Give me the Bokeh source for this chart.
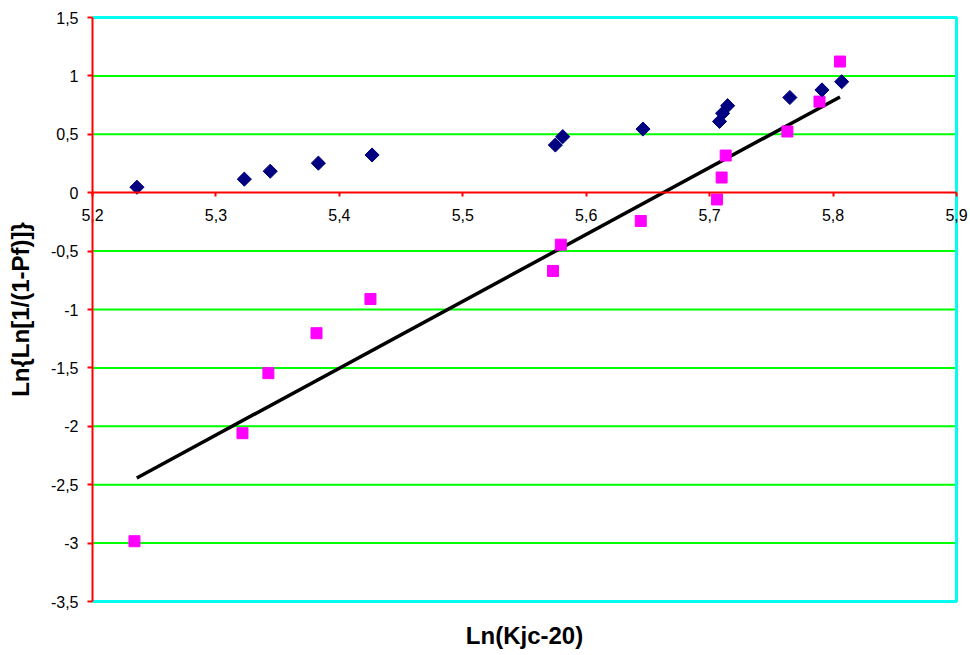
import numpy as np
from bokeh.plotting import figure
from bokeh.models import FixedTicker, Range1d, Title, LinearAxis
from bokeh.embed import file_html
from bokeh.resources import INLINE

# ---- data ----
x_blue = [5.236, 5.323, 5.344, 5.383, 5.4265, 5.575, 5.581, 5.646, 5.708, 5.7105, 5.7146, 5.765, 5.791, 5.807]
y_blue = [0.047, 0.116, 0.184, 0.253, 0.323, 0.408, 0.48, 0.545, 0.61, 0.68, 0.745, 0.815, 0.88, 0.95]

x_pink = [5.234, 5.3215, 5.3425, 5.3815, 5.4252, 5.5731, 5.5794, 5.6442, 5.706, 5.7097, 5.713, 5.763, 5.789, 5.8056]
y_pink = [-2.984, -2.059, -1.545, -1.203, -0.91, -0.67, -0.445, -0.242, -0.058, 0.13, 0.318, 0.524, 0.78, 1.123]

trend_x = [5.2359, 5.8056]
trend_y = [-2.442, 0.820]

x_min, x_max = 5.2, 5.9
y_min, y_max = -3.5, 1.5
x_ticks = [5.2, 5.3, 5.4, 5.5, 5.6, 5.7, 5.8, 5.9]
x_tick_labels = ["5,2", "5,3", "5,4", "5,5", "5,6", "5,7", "5,8", "5,9"]
y_ticks = [-3.5, -3.0, -2.5, -2.0, -1.5, -1.0, -0.5, 0.0, 0.5, 1.0, 1.5]
y_tick_labels = ["-3,5", "-3", "-2,5", "-2", "-1,5", "-1", "-0,5", "0", "0,5", "1", "1,5"]
y_grid = [-3.0, -2.5, -2.0, -1.5, -1.0, -0.5, 0.5, 1.0]

FONT = "Liberation Sans"

# plot area geometry (pixels); frame is a little wider than the data box
# so that the edge tick labels are not clipped
BOX_W, BOX_H = 864, 584
PAD_L, PAD_R, PAD_T, PAD_B = 14, 14, 2, 2
ux = (x_max - x_min) / BOX_W
uy = (y_max - y_min) / BOX_H

p = figure(frame_width=BOX_W + PAD_L + PAD_R, frame_height=BOX_H + PAD_T + PAD_B,
           x_range=Range1d(x_min - PAD_L * ux, x_max + PAD_R * ux),
           y_range=Range1d(y_min - PAD_B * uy, y_max + PAD_T * uy),
           output_backend="svg", toolbar_location=None,
           min_border_left=78, min_border_top=15, min_border_right=0, min_border_bottom=0,
           background_fill_color="white", border_fill_color="white")

p.outline_line_color = None
p.xgrid.visible = False
p.ygrid.visible = False

# green horizontal grid lines inside the data box
p.segment(x0=[x_min] * len(y_grid), x1=[x_max] * len(y_grid), y0=y_grid, y1=y_grid,
          line_color="#00FF00", line_width=2)

# cyan border: top, right, bottom
p.line([x_min, x_max, x_max, x_min], [y_max, y_max, y_min, y_min],
       line_color="#00FFEE", line_width=3)

# x axis crossing at y = 0
xa = p.xaxis[0]
xa.fixed_location = 0
xa.bounds = (x_min, x_max)
xa.ticker = FixedTicker(ticks=x_ticks)
xa.major_label_overrides = {t: l for t, l in zip(x_ticks, x_tick_labels)}
xa.axis_line_color = "#FF0000"
xa.axis_line_width = 2
xa.major_tick_line_color = "#FF0000"
xa.major_tick_line_width = 2
xa.major_tick_out = 4
xa.major_tick_in = 0
xa.minor_tick_line_color = None
xa.major_label_text_font = FONT
xa.major_label_text_font_size = "16px"
xa.major_label_text_color = "black"
xa.major_label_standoff = 12

# y axis: labels on the normal left axis
ya = p.yaxis[0]
ya.ticker = FixedTicker(ticks=y_ticks)
ya.major_label_overrides = {t: l for t, l in zip(y_ticks, y_tick_labels)}
ya.axis_line_color = None
ya.major_tick_line_color = None
ya.major_tick_out = 0
ya.major_tick_in = 0
ya.minor_tick_line_color = None
ya.major_label_text_font = FONT
ya.major_label_text_font_size = "16px"
ya.major_label_text_color = "black"
ya.major_label_standoff = 0
ya.axis_label = "Ln{Ln[1/(1-Pf)]}"
ya.axis_label_text_font = FONT
ya.axis_label_text_font_size = "24px"
ya.axis_label_text_font_style = "bold"
ya.axis_label_text_color = "black"
ya.axis_label_standoff = 14

# y axis: red line and ticks at x = 5.2
ya2 = LinearAxis(fixed_location=x_min, bounds=(y_min, y_max),
                 ticker=FixedTicker(ticks=y_ticks),
                 axis_line_color="#FF0000", axis_line_width=2,
                 major_tick_line_color="#FF0000", major_tick_line_width=2,
                 major_tick_out=5, major_tick_in=0, minor_tick_line_color=None,
                 major_label_text_alpha=0)
p.add_layout(ya2, "left")

p.add_layout(Title(text="Ln(Kjc-20)", align="center", text_font=FONT,
                   text_font_size="24px", text_font_style="bold",
                   text_color="black", standoff=32), "below")

# trend line
p.line(trend_x, trend_y, line_color="black", line_width=3.5)

# series
p.scatter(x_pink, y_pink, marker="square", size=11, fill_color="#FF00FF", line_color="#FF00FF")
p.scatter(x_blue, y_blue, marker="square", size=10, angle=np.pi / 4,
          fill_color="#000080", line_color="#000080")

open("out.html", "w").write(file_html(p, INLINE))
